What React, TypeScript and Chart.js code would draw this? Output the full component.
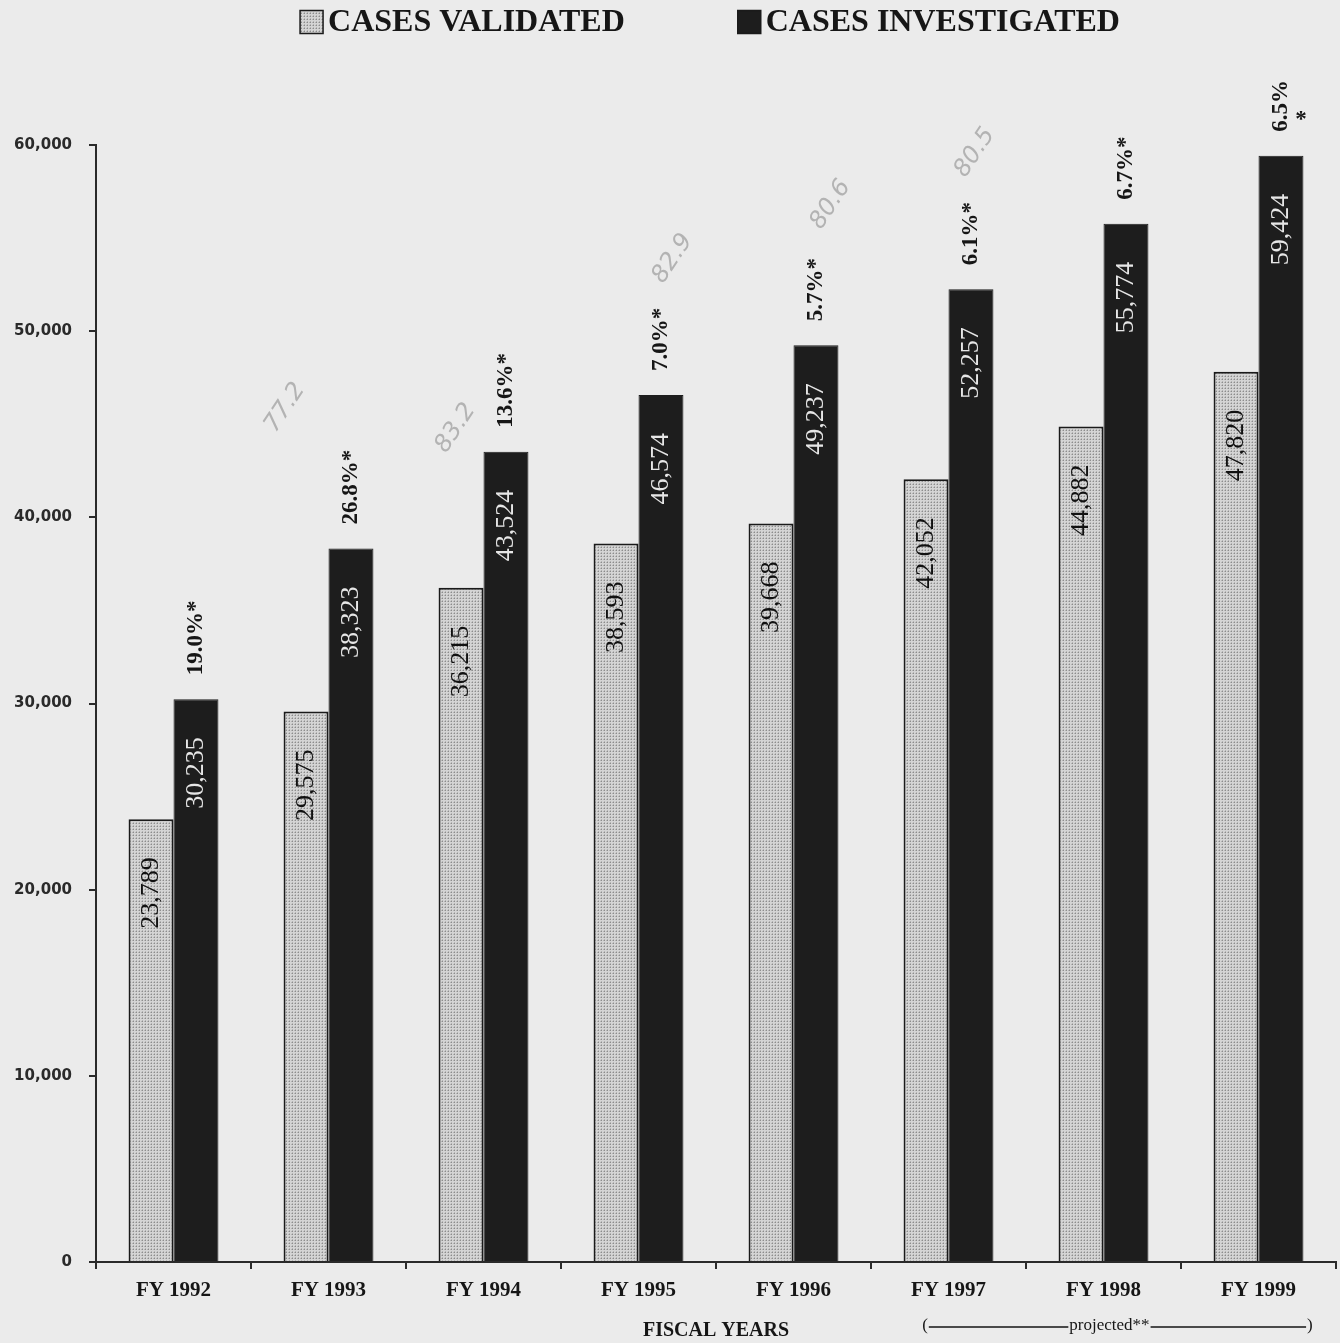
import React, { useEffect, useRef } from 'react';
import { Chart, registerables } from 'chart.js';

Chart.register(...registerables);

// ---------- data ----------
const categories = ['FY 1992', 'FY 1993', 'FY 1994', 'FY 1995', 'FY 1996', 'FY 1997', 'FY 1998', 'FY 1999'];
const seriesNames = ['CASES VALIDATED', 'CASES INVESTIGATED'];
const casesValidated = [23789, 29575, 36215, 38593, 39668, 42052, 44882, 47820];
const casesInvestigated = [30235, 38323, 43524, 46574, 49237, 52257, 55774, 59424];
const increaseLabels = ['19.0%*', '26.8%*', '13.6%*', '7.0%*', '5.7%*', '6.1%*', '6.7%*', '6.5%'];
const separateStar = [false, false, false, false, false, false, false, true];
const yTickValues = [0, 10000, 20000, 30000, 40000, 50000, 60000];
const axisTitle = 'FISCAL YEARS';
const projectedText = 'projected**';
const projectedFromIndex = 5;
// faint hand-written pencil notes on the scan
const noteTexts = ['77.2', '83.2', '82.9', '80.6', '80.5'];
const noteCategory = [1, 2, 3, 4, 5];
const noteValues = [45900, 44800, 53900, 56800, 59600];
const noteShift = [-0.28, -0.18, 0.22, 0.24, 0.17];

// ---------- style ----------
const PAPER = '#ebebeb';
const INK = '#161616';
const DARK_BAR = '#1d1d1d';
const SERIF = '"Liberation Serif", "Times New Roman", serif';
const SANS = '"DejaVu Sans", Verdana, sans-serif';

const fmt = (v: number) => v.toLocaleString('en-US');

function makeDotPattern(): CanvasPattern | string {
  const c = document.createElement('canvas');
  c.width = 3;
  c.height = 3;
  const g = c.getContext('2d');
  if (!g) return '#c8c8c8';
  g.fillStyle = '#d4d4d4';
  g.fillRect(0, 0, 3, 3);
  g.fillStyle = '#8c8c8c';
  g.fillRect(1, 1, 1, 1);
  g.fillStyle = '#b4b4b4';
  g.fillRect(0, 1, 1, 1);
  g.fillRect(1, 0, 1, 1);
  const p = g.createPattern(c, 'repeat');
  return p || '#c8c8c8';
}

const paperPlugin = {
  id: 'paper',
  beforeDraw(chart: any) {
    const { ctx, width, height } = chart;
    ctx.save();
    ctx.fillStyle = PAPER;
    ctx.fillRect(0, 0, width, height);
    ctx.restore();
  },
};

const barLabelsPlugin = {
  id: 'barLabels',
  afterDatasetsDraw(chart: any) {
    const ctx = chart.ctx;
    chart.data.datasets.forEach((ds: any, di: number) => {
      const meta = chart.getDatasetMeta(di);
      meta.data.forEach((bar: any, i: number) => {
        const v = ds.data[i] as number;
        ctx.save();
        ctx.translate(bar.x, bar.y + 38);
        ctx.rotate(-Math.PI / 2);
        ctx.font = `26px ${SERIF}`;
        ctx.fillStyle = di === 0 ? '#111111' : '#e6e6e6';
        ctx.textAlign = 'right';
        ctx.textBaseline = 'middle';
        ctx.fillText(fmt(v), 0, 0);
        ctx.restore();
        if (di === 1) {
          ctx.save();
          ctx.translate(bar.x, bar.y - 24);
          ctx.rotate(-Math.PI / 2);
          ctx.font = `bold 23px ${SERIF}`;
          ctx.fillStyle = INK;
          ctx.textAlign = 'left';
          ctx.textBaseline = 'middle';
          ctx.fillText(increaseLabels[i], 0, 0);
          ctx.restore();
          if (separateStar[i]) {
            ctx.save();
            ctx.font = `bold 23px ${SERIF}`;
            ctx.fillStyle = INK;
            ctx.textAlign = 'center';
            ctx.textBaseline = 'middle';
            ctx.fillText('*', bar.x + 20, bar.y - 36);
            ctx.restore();
          }
        }
      });
    });
  },
};

const notesPlugin = {
  id: 'pencilNotes',
  afterDatasetsDraw(chart: any) {
    const ctx = chart.ctx;
    const xs = chart.scales.x;
    const ys = chart.scales.y;
    const cat = xs.getPixelForValue(1) - xs.getPixelForValue(0);
    noteTexts.forEach((t, k) => {
      const x = xs.getPixelForValue(noteCategory[k]) + noteShift[k] * cat;
      const y = ys.getPixelForValue(noteValues[k]);
      ctx.save();
      ctx.translate(x, y);
      ctx.rotate(-Math.PI / 3.2);
      ctx.font = `italic 24px ${SANS}`;
      ctx.fillStyle = 'rgba(110,110,110,0.45)';
      ctx.textAlign = 'center';
      ctx.textBaseline = 'middle';
      ctx.fillText(t, 0, 0);
      ctx.restore();
    });
  },
};

const legendPlugin = {
  id: 'topLegend',
  afterDraw(chart: any) {
    const ctx = chart.ctx;
    const area = chart.chartArea;
    const box = 23;
    const gap = 5;
    const itemGap = 113;
    ctx.save();
    ctx.font = `bold 32px ${SERIF}`;
    const items = chart.data.datasets.map((ds: any) => ({ text: ds.label, fill: ds.backgroundColor }));
    const widths = items.map((it: any) => box + gap + ctx.measureText(it.text).width);
    const total = widths.reduce((a: number, b: number) => a + b, 0) + itemGap * (items.length - 1);
    let x = (area.left + area.right) / 2 - total / 2 - 6;
    const cy = 22;
    items.forEach((it: any, k: number) => {
      ctx.fillStyle = it.fill;
      ctx.fillRect(x, cy - box / 2, box, box);
      ctx.strokeStyle = '#1a1a1a';
      ctx.lineWidth = 1.5;
      ctx.strokeRect(x, cy - box / 2, box, box);
      ctx.fillStyle = INK;
      ctx.textAlign = 'left';
      ctx.textBaseline = 'middle';
      ctx.fillText(it.text, x + box + gap, cy + 1);
      x += widths[k] + itemGap;
    });
    ctx.restore();
  },
};

const projectedPlugin = {
  id: 'projected',
  afterDraw(chart: any) {
    const ctx = chart.ctx;
    const xs = chart.scales.x;
    const cat = xs.getPixelForValue(1) - xs.getPixelForValue(0);
    const left = xs.getPixelForValue(projectedFromIndex) - 0.17 * cat;
    const right = xs.getPixelForValue(categories.length - 1) + 0.35 * cat;
    const y = xs.bottom - 17;
    ctx.save();
    ctx.font = `17px ${SERIF}`;
    ctx.fillStyle = INK;
    ctx.strokeStyle = INK;
    ctx.textBaseline = 'middle';
    ctx.textAlign = 'left';
    ctx.fillText('(', left, y);
    ctx.textAlign = 'right';
    ctx.fillText(')', right, y);
    const pw = ctx.measureText('(').width;
    const tw = ctx.measureText(projectedText).width;
    const mid = (left + right) / 2 - 8;
    ctx.textAlign = 'center';
    ctx.fillText(projectedText, mid, y);
    ctx.lineWidth = 1.5;
    ctx.beginPath();
    ctx.moveTo(left + pw + 1, y + 1);
    ctx.lineTo(mid - tw / 2 - 1, y + 1);
    ctx.moveTo(mid + tw / 2 + 1, y + 1);
    ctx.lineTo(right - pw - 1, y + 1);
    ctx.stroke();
    ctx.restore();
  },
};

export default function App() {
  const canvasRef = useRef<HTMLCanvasElement | null>(null);

  useEffect(() => {
    document.body.style.margin = '0';
    document.body.style.background = PAPER;
    const canvas = canvasRef.current;
    if (!canvas) return;
    const pattern = makeDotPattern();

    const chart = new Chart(canvas, {
      type: 'bar',
      data: {
        labels: categories,
        datasets: [
          {
            label: seriesNames[0],
            data: casesValidated,
            backgroundColor: pattern as any,
            borderColor: '#1a1a1a',
            borderWidth: 2,
          },
          {
            label: seriesNames[1],
            data: casesInvestigated,
            backgroundColor: DARK_BAR,
            borderColor: DARK_BAR,
            borderWidth: 1,
          },
        ],
      },
      options: {
        animation: false,
        responsive: false,
        devicePixelRatio: 1,
        datasets: {
          bar: { categoryPercentage: 0.58, barPercentage: 1.0 },
        },
        layout: { padding: { top: 145, right: 4, left: 0, bottom: 0 } },
        plugins: {
          legend: { display: false },
          tooltip: { enabled: false },
        },
        scales: {
          x: {
            grid: {
              display: true,
              drawOnChartArea: false,
              drawTicks: true,
              tickLength: 7,
              offset: true,
              color: '#2a2a2a',
              lineWidth: 2,
            },
            border: { display: true, color: '#2a2a2a', width: 2 },
            ticks: {
              font: { family: SERIF, size: 21, weight: 'bold' },
              color: INK,
              padding: 9,
            },
            title: {
              display: true,
              text: axisTitle,
              font: { family: SERIF, size: 20, weight: 'bold' },
              color: INK,
              padding: { top: 4, bottom: 0 },
            },
            afterFit(scale: any) {
              scale.height = 81;
            },
          },
          y: {
            min: yTickValues[0],
            max: yTickValues[yTickValues.length - 1],
            afterBuildTicks(scale: any) {
              scale.ticks = yTickValues.map((v) => ({ value: v }));
            },
            ticks: {
              font: { family: SANS, size: 15, weight: 'bold' },
              color: '#2a2a2a',
              padding: 17,
              callback: (v: any) => fmt(Number(v)),
            },
            grid: {
              display: true,
              drawOnChartArea: false,
              drawTicks: true,
              tickLength: 7,
              color: '#2a2a2a',
              lineWidth: 2,
            },
            border: { display: true, color: '#2a2a2a', width: 2 },
            afterFit(scale: any) {
              scale.width = 96;
            },
          },
        },
      } as any,
      plugins: [paperPlugin, notesPlugin, barLabelsPlugin, legendPlugin, projectedPlugin],
    });

    return () => {
      chart.destroy();
    };
  }, []);

  return (
    <canvas
      ref={canvasRef}
      width={1340}
      height={1343}
      style={{ display: 'block', width: '1340px', height: '1343px' }}
    />
  );
}
